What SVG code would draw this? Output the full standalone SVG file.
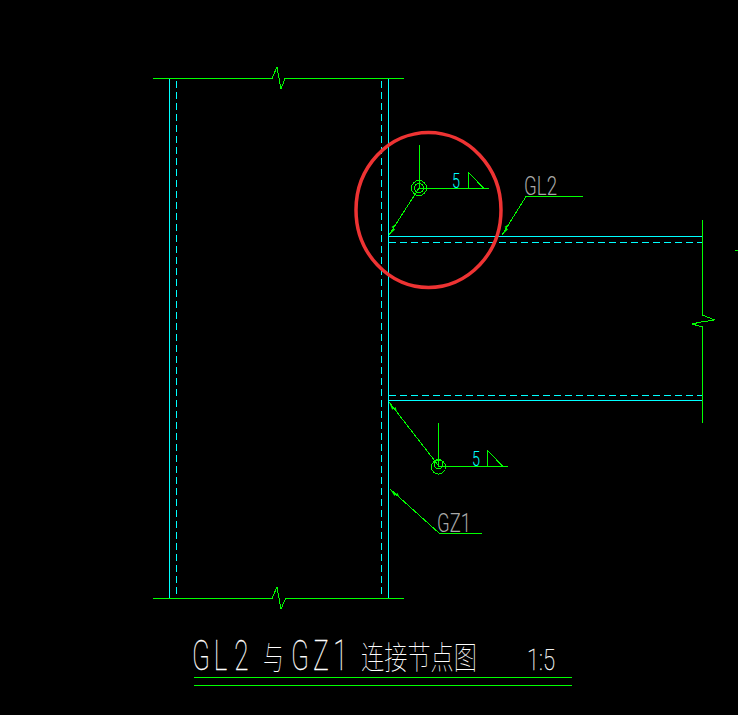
<svg xmlns="http://www.w3.org/2000/svg" width="738" height="715" viewBox="0 0 738 715">
<style>
.g{fill:none;stroke:#00ff00;stroke-width:1;shape-rendering:crispEdges}
.c{fill:none;stroke:#00ffff;stroke-width:1;shape-rendering:crispEdges}
.d{fill:none;stroke:#00ffff;stroke-width:1;stroke-dasharray:7 4;shape-rendering:crispEdges}
.t{font-family:"Roboto","Liberation Sans",sans-serif;font-weight:300}
.gr{fill:#a8a8a8}
.w{fill:#fff;font-weight:100;stroke:#fff;stroke-width:.25}
.cy{fill:#00ffff}
.cn{font-family:"Noto Sans CJK SC","Noto Sans",sans-serif;font-weight:100;fill:#fff}
</style>
<defs>
<marker id="a" markerWidth="14" markerHeight="8" refX="13" refY="4" orient="auto" markerUnits="userSpaceOnUse"><path d="M0 4L13 4L5 1.800L5 6.200Z" fill="#00ff00"/></marker>
</defs>
<rect width="738" height="715" fill="#000"/>
<g id="column">
<path class="c" d="M169.500 78.500V598.500M388.500 78.500V598.500"/>
<path class="d" d="M176.500 81V598M381.500 81V598"/>
</g>
<g id="beam">
<path class="c" d="M388.500 236.500H702.500M388.500 400.500H702.500"/>
<path class="d" d="M388.500 242.500H702M388.500 395.500H702"/>
</g>
<g id="connectors">
<path class="g" d="M153 78.500H272L277 67L281 89L285 78.500H404"/>
<path class="g" d="M153 598.500H272L277 587L281 609L285.500 598.500H404"/>
<path class="g" d="M702.500 220V315L714.500 320L701 322L692 324L702.500 327V422.500"/>
<path class="g" d="M735 251L738 250"/>
<path class="g" marker-end="url(#a)" d="M419 188L389 235"/>
<path class="g" marker-end="url(#a)" d="M526 196.500L502 235"/>
<path class="g" d="M526 196.500H583"/>
<path class="g" marker-end="url(#a)" d="M438 465L389 402"/>
<path class="g" marker-end="url(#a)" d="M439 533L390 489"/>
<path class="g" d="M439 533H481.500"/>
</g>
<g id="weld-1">
<path class="g" d="M419.500 145V188.500H488.500M468.500 188.500V172.500L484 188.500"/>
<circle class="g" cx="419" cy="188" r="7.500"/>
<circle class="g" cx="419" cy="188" r="4.500"/>
<text class="t cy" font-size="21" x="452" y="188" textLength="8" lengthAdjust="spacingAndGlyphs">5</text>
</g>
<g id="weld-2">
<path class="g" d="M438.500 423V466.500H508M487.500 466.500V450.500L503 466.500"/>
<circle class="g" cx="438.500" cy="467" r="7"/>
<circle class="g" cx="438.500" cy="464" r="4.500"/>
<text class="t cy" font-size="21" x="472" y="466" textLength="8" lengthAdjust="spacingAndGlyphs">5</text>
</g>
<g id="label-GL2"><text class="t gr" font-size="25" x="524" y="195" textLength="33" lengthAdjust="spacingAndGlyphs">GL2</text></g>
<g id="label-GZ1"><text class="t gr" font-size="25" x="437" y="532" textLength="34" lengthAdjust="spacingAndGlyphs">GZ1</text></g>
<g id="highlight"><ellipse cx="428.500" cy="210" rx="72.500" ry="77.500" fill="none" stroke="#ee3333" stroke-width="3.500"/></g>
<g id="title">
<text class="t w" font-size="42" transform="translate(192 670) scale(.62 1)" x="0 35 68">GL2</text>
<text class="cn" font-size="32" transform="translate(263 669) scale(.65 1)">与</text>
<text class="t w" font-size="42" transform="translate(291 670) scale(.62 1)" x="0 36 68">GZ1</text>
<text class="cn" font-size="32" transform="translate(361 669) scale(.725 1)">连接节点图</text>
<text class="t w" font-size="30" x="527" y="670" textLength="28" lengthAdjust="spacingAndGlyphs">1:5</text>
<path class="g" d="M194 677.500H572M194 685.500H572"/>
</g>
</svg>
